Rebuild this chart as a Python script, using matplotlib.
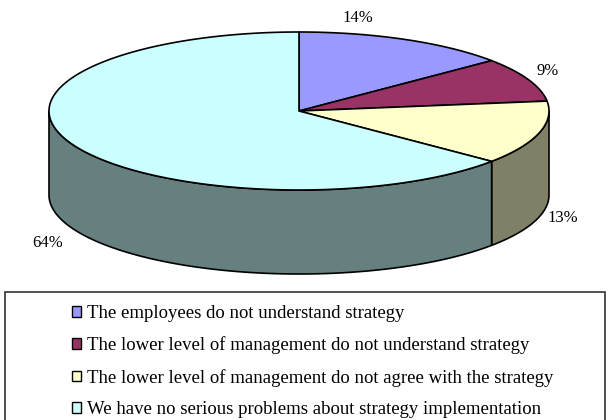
import numpy as np
import matplotlib.pyplot as plt
from matplotlib.patches import Polygon, Patch, Rectangle

values = [14, 9, 13, 64]
pct_labels = ["14%", "9%", "13%", "64%"]
legend_labels = [
    "The employees do not understand strategy",
    "The lower level of management do not understand strategy",
    "The lower level of management do not agree with the strategy",
    "We have no serious problems about strategy implementation",
]
top_colors = ["#9999FF", "#993366", "#FFFFCC", "#CCFFFF"]
side_colors = ["#5C5C99", "#5C1F3D", "#808066", "#668080"]

# pie geometry (pixels)
cx, cy, rx, ry, depth = 299, 111, 250, 79, 84
label_pos = [(358, 18), (548, 71), (563, 218), (48, 243)]

plt.rcParams["font.family"] = ["Liberation Serif", "DejaVu Serif"]

fig = plt.figure(figsize=(6.1, 4.2), dpi=100)
ax = fig.add_axes([0, 0, 1, 1])
ax.set_xlim(0, 610)
ax.set_ylim(420, 0)
ax.axis("off")


def arc(t0, t1, dy=0, n=200):
    t = np.radians(np.linspace(t0, t1, n))
    return np.column_stack([cx + rx * np.cos(t), cy - ry * np.sin(t) + dy])


fr = np.array(values) / sum(values)
bounds = 90 - 360 * np.concatenate([[0], np.cumsum(fr)])

# side walls (front half only)
for i in range(len(values)):
    hi = min(bounds[i], 0)
    lo = max(bounds[i + 1], -180)
    if lo < hi:
        pts = np.vstack([arc(hi, lo), arc(lo, hi, depth)])
        ax.add_patch(Polygon(pts, closed=True, facecolor=side_colors[i],
                             edgecolor="black", lw=1.2))

# top slices
for i in range(len(values)):
    pts = np.vstack([[cx, cy], arc(bounds[i], bounds[i + 1])])
    ax.add_patch(Polygon(pts, closed=True, facecolor=top_colors[i],
                         edgecolor="black", lw=1.2, joinstyle="round"))

for (x, y), s in zip(label_pos, pct_labels):
    ax.text(x, y, s, ha="center", va="center", fontsize=12)

# legend box
fig.patches.append(Rectangle((5 / 610, -0.1), 600 / 610, 1 - 292 / 420 + 0.1,
                             transform=fig.transFigure, fill=False,
                             edgecolor="#333333", lw=1.2))
handles = [Patch(facecolor=c, edgecolor="black", lw=1) for c in top_colors]
fig.legend(handles, legend_labels, loc="upper left",
           bbox_to_anchor=(72 / 610, 1 - 305 / 420), frameon=False,
           fontsize=13.5, handlelength=0.5, handleheight=0.5,
           handletextpad=0.3, labelspacing=0.77, borderpad=0,
           borderaxespad=0)

fig.savefig("out.png", dpi=100)
